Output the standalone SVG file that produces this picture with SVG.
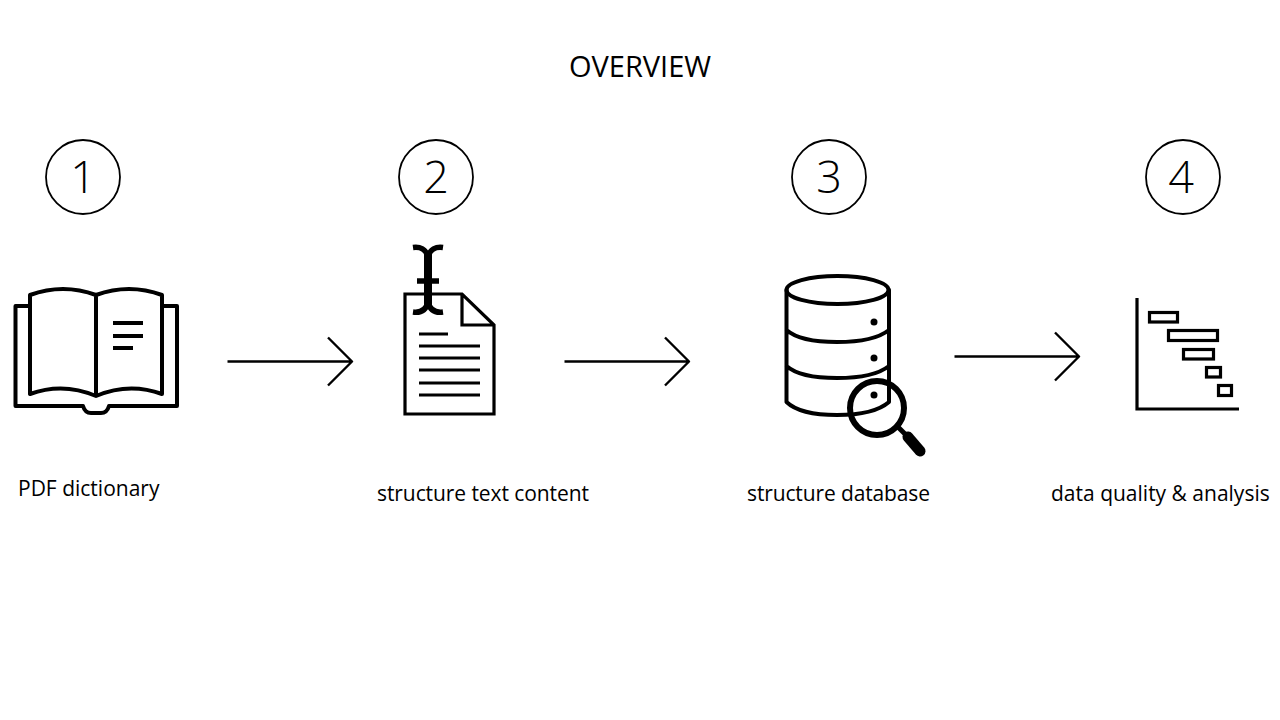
<svg xmlns="http://www.w3.org/2000/svg" width="1280" height="720" viewBox="0 0 1280 720">
<style>
text{font-family:"Open Sans","Noto Sans","Liberation Sans",sans-serif;fill:#000}
.lbl{font-size:21px}
.num{font-size:45px;font-weight:300;text-anchor:middle}
.ring{fill:none;stroke:#000;stroke-width:1.8}
.ic{fill:none;stroke:#000;stroke-width:4;stroke-linejoin:round;stroke-linecap:round}
.th{fill:none;stroke:#000;stroke-width:3.200}
.con{fill:none;stroke:#000;stroke-width:2.400;stroke-linejoin:round}
</style>
<rect width="1280" height="720" fill="#fff"/>
<text id="title" x="640" y="76.500" font-size="29" text-anchor="middle">OVERVIEW</text>
<g id="step1">
<circle class="ring" cx="83" cy="177" r="37"/><text class="num" x="83" y="193">1</text>
<path class="ic" d="M30 306H15.500V406H83Q85 413 91 413H101Q107 413 109 406H177V306H162"/>
<path class="ic" d="M30 394V295Q63 283 96 295Q129 283 162 295V394Q129 382 96 396Q63 382 30 394ZM96 295V396"/>
<path d="M113 323H143M113 336H143M113 348H133" fill="none" stroke="#000" stroke-width="3.800"/>
<text class="lbl" x="18" y="496">PDF dictionary</text>
</g>
<g id="step2">
<circle class="ring" cx="436" cy="177" r="37"/><text class="num" x="436" y="193">2</text>
<path class="th" d="M405 294H462L494 325V414H405ZM462 294V325H494"/>
<path class="th" d="M419 334H448M419 346H480M419 358H480M419 370H480M419 383H480M419 395H480"/>
<path d="M417 281H439" fill="none" stroke="#000" stroke-width="5.500"/>
<path d="M413 247.500C420 246.500 426 249 428 257C430 249 436 246.500 443 247.500M413 312C420 313 426 310.500 428 302C430 310.500 436 313 443 312" fill="none" stroke="#000" stroke-width="5.500"/>
<path d="M428 254V305" stroke="#000" stroke-width="8"/>
<text class="lbl" x="377" y="501" textLength="212">structure text content</text>
</g>
<g id="step3">
<circle class="ring" cx="829" cy="177" r="37"/><text class="num" x="829" y="193">3</text>
<ellipse class="ic" cx="837.500" cy="290" rx="51" ry="14"/>
<path class="ic" d="M786.500 290V402Q800 415 837 415T889 402V290M786.500 330Q800 342 837 342T889 330M786.500 366Q800 378 837 378T889 366"/>
<circle cx="874" cy="322" r="3.500"/><circle cx="874" cy="358" r="3.500"/><circle cx="874" cy="395" r="3.500"/>
<circle cx="877" cy="408" r="27" fill="none" stroke="#000" stroke-width="6"/>
<path d="M898 427L908 437" stroke="#000" stroke-width="5"/>
<path d="M908 437L920 451" stroke="#000" stroke-width="11" stroke-linecap="round"/>
<text class="lbl" x="747" y="501" textLength="183">structure database</text>
</g>
<g id="step4">
<circle class="ring" cx="1183" cy="177" r="37"/><text class="num" x="1181" y="193">4</text>
<path class="th" d="M1137 298V409H1239"/>
<rect class="th" x="1149.500" y="312.500" width="28" height="9.500"/>
<rect class="th" x="1168.500" y="330.500" width="49" height="10"/>
<rect class="th" x="1183.500" y="349.500" width="30" height="9.500"/>
<rect class="th" x="1206.500" y="367.500" width="14" height="9.500"/>
<rect class="th" x="1218.500" y="385.500" width="13" height="10"/>
<text class="lbl" x="1051" y="501">data quality &amp; analysis</text>
</g>
<g id="connectors">
<path class="con" d="M227.500 361.500H352M328 337.500L352 361.500L328 385.500"/>
<path class="con" d="M564.500 361.500H689M665 337.500L689 361.500L665 385.500"/>
<path class="con" d="M954.500 356.500H1079M1055 332.500L1079 356.500L1055 380.500"/>
</g>
</svg>
